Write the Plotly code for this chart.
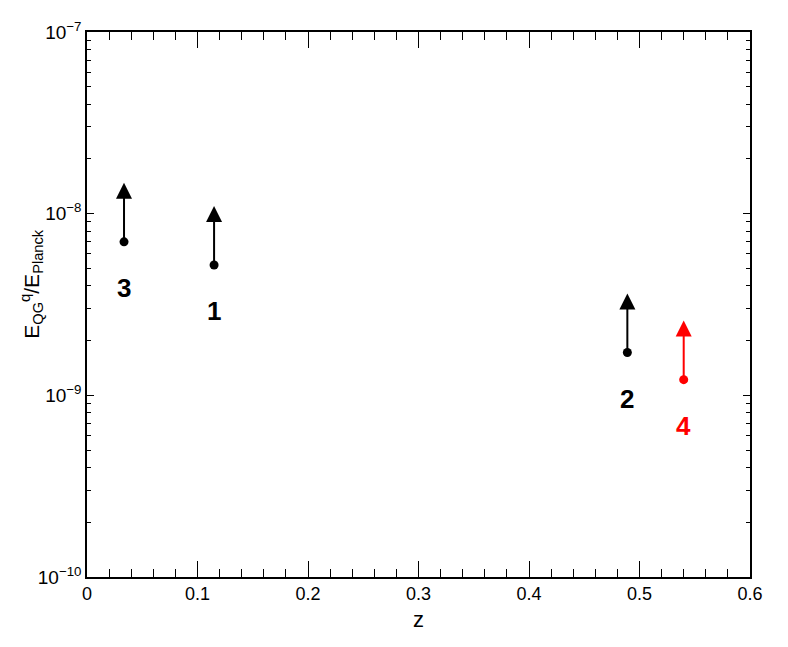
import numpy as np
import plotly.graph_objects as go

# ---- data ----
labels = ["1", "2", "3", "4"]
z_vals = [0.115, 0.489, 0.0335, 0.540]
lower_limits = [5.22e-9, 1.72e-9, 7.0e-9, 1.22e-9]
colors = ["black", "black", "black", "red"]

y_tickvals = [1e-10, 1e-9, 1e-8, 1e-7]
y_ticktext = ["10<sup>\u221210</sup>", "10<sup>\u22129</sup>", "10<sup>\u22128</sup>", "10<sup>\u22127</sup>"]
x_tickvals = [0, 0.1, 0.2, 0.3, 0.4, 0.5, 0.6]
x_ticktext = ["0", "0.1", "0.2", "0.3", "0.4", "0.5", "0.6"]
y_title = "E<sub>QG</sub><sup>q</sup>/E<sub>Planck</sub>"
x_title = "z"

# ---- styling constants ----
FONT = "Liberation Sans, Arial, Helvetica, sans-serif"
ARROW_DEC = 0.325   # arrow length in decades (style)
LABEL_SHIFT = -46   # px below the point

fig = go.Figure()

for c in ["black", "red"]:
    xs = [z for z, col in zip(z_vals, colors) if col == c]
    ys = [v for v, col in zip(lower_limits, colors) if col == c]
    fig.add_trace(go.Scatter(x=xs, y=ys, mode="markers",
                             marker=dict(color=c, size=9),
                             showlegend=False, hoverinfo="x+y"))

annotations = []
for lab, z, v, c in zip(labels, z_vals, lower_limits, colors):
    ly = np.log10(v)
    annotations.append(dict(
        x=z, y=ly + ARROW_DEC, xref="x", yref="y",
        ax=z, ay=ly, axref="x", ayref="y",
        showarrow=True, arrowhead=2, arrowsize=1.6, arrowwidth=2,
        arrowcolor=c, text=""))
    annotations.append(dict(
        x=z, y=ly, xref="x", yref="y", yshift=LABEL_SHIFT,
        text="<b>%s</b>" % lab, showarrow=False,
        font=dict(family=FONT, size=26, color=c)))

# y-axis title as rotated annotation (placed above centre as in reference)
annotations.append(dict(
    text=y_title, textangle=-90, showarrow=False,
    xref="paper", yref="paper", x=-0.083, y=0.538,
    xanchor="center", yanchor="middle",
    font=dict(family=FONT, size=21, color="black")))

minor_y = []
for d in range(-10, -7):
    for k in range(2, 10):
        minor_y.append(k * 10.0 ** d)

fig.update_layout(
    width=788, height=647,
    margin=dict(l=79, r=46, t=24, b=78),
    paper_bgcolor="white", plot_bgcolor="white",
    font=dict(family=FONT, size=17, color="black"),
    annotations=annotations,
    xaxis=dict(
        range=[0, 0.6], tickmode="array", tickvals=x_tickvals, ticktext=x_ticktext,
        ticks="inside", ticklen=16, tickwidth=1, tickcolor="black",
        minor=dict(tickmode="array", tickvals=[round(0.02 * i, 2) for i in range(31)],
                   ticks="inside", ticklen=8, tickwidth=1, tickcolor="black", showgrid=False),
        showline=True, linecolor="black", linewidth=1.5, mirror="ticks",
        showgrid=False, zeroline=False,
        title=dict(text=x_title, font=dict(size=22), standoff=8),
        tickfont=dict(size=18),
    ),
    yaxis=dict(
        type="log", range=[-10, -7], tickmode="array", tickvals=y_tickvals, ticktext=y_ticktext,
        ticks="inside", ticklen=7, tickwidth=1, tickcolor="black",
        minor=dict(tickmode="array", tickvals=minor_y,
                   ticks="inside", ticklen=4, tickwidth=1, tickcolor="black", showgrid=False),
        showline=True, linecolor="black", linewidth=1.5, mirror="ticks",
        showgrid=False, zeroline=False,
        tickfont=dict(size=19),
    ),
)

fig.write_html("out.html")
